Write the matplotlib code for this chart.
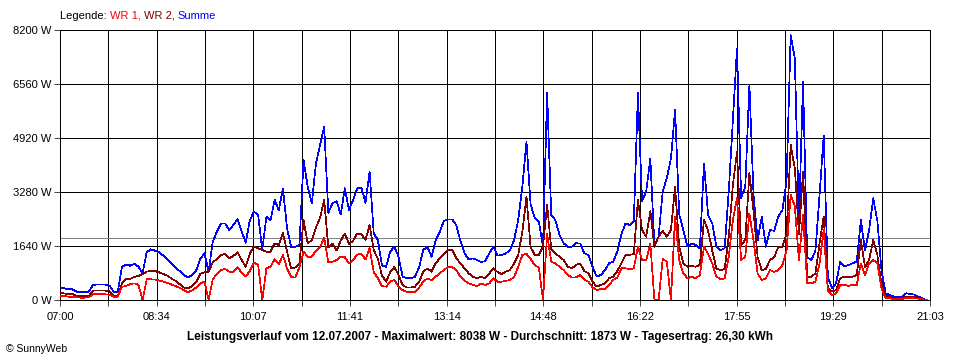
import numpy as np
import matplotlib
matplotlib.use("Agg")
import matplotlib.pyplot as plt

# Leistung in W, ein Wert alle 4 Minuten ab 07:00
summe = [375, 360, 324, 324, 253, 253, 240, 253, 456, 470,
         470, 470, 440, 253, 253, 1000, 1083, 1040, 1100, 1012,
         810, 1450, 1539, 1500, 1450, 1350, 1250, 1100, 980, 880,
         760, 680, 760, 900, 1250, 1420, 860, 1772, 2075, 2328,
         2328, 2126, 2278, 2450, 2075, 1741, 2429, 2682, 2581, 1518,
         2530, 2429, 3037, 2733, 3391, 2176, 1600, 1620, 1670, 4252,
         3442, 2935, 4150, 4700, 5264, 2650, 2935, 3000, 2600, 3391,
         2733, 3037, 3391, 3421, 2950, 3900, 2024, 1822, 1050, 1012,
         1468, 1620, 1316, 709, 658, 658, 709, 1000, 1518, 1620,
         1316, 1822, 2075, 2400, 2449, 2449, 2278, 1790, 1417, 1230,
         1265, 1215, 1154, 1180, 1418, 1620, 1350, 1367, 1417, 1500,
         1822, 2429, 3442, 4808, 2900, 2500, 2379, 1620, 6300, 2581,
         2429, 1974, 1721, 1620, 1620, 1721, 1720, 1418, 1367, 1012,
         709, 759, 900, 1113, 1164, 1470, 2000, 2328, 2278, 2380,
         6280, 3000, 3300, 4300, 1620, 1923, 3300, 3700, 4302, 5770,
         2600, 2126, 1620, 1721, 1670, 1570, 4150, 2580, 2330, 1620,
         1518, 1570, 3300, 5466, 7643, 3100, 3442, 6530, 3200, 1822,
         2530, 1620, 2126, 2100, 2530, 2733, 3600, 8038, 7340, 2400,
         6631, 1300, 1215, 1500, 3200, 5000, 700, 354, 506, 1164,
         1012, 1063, 1113, 1164, 2430, 1500, 2126, 3088, 2400, 900,
         200, 152, 101, 80, 101, 203, 180, 160, 100, 40,
         0]

wr2 = [223, 200, 182, 182, 130, 122, 122, 130, 284, 284,
       284, 284, 260, 122, 122, 500, 628, 640, 700, 729,
       790, 860, 891, 880, 840, 790, 740, 650, 580, 480,
       380, 354, 420, 540, 800, 840, 860, 1143, 1245, 1366,
       1397, 1265, 1336, 1448, 1215, 1012, 1417, 1620, 1569, 1518,
       1468, 1468, 1721, 1670, 2045, 1468, 960, 990, 1113, 2429,
       1721, 1822, 2200, 2500, 3040, 1600, 1720, 1500, 1800, 2024,
       1700, 1800, 2024, 2000, 1822, 2278, 1518, 1250, 740, 557,
       850, 1000, 759, 450, 380, 380, 405, 560, 860, 962,
       860, 1113, 1265, 1400, 1518, 1518, 1265, 1113, 960, 810,
       709, 660, 709, 660, 810, 962, 850, 790, 860, 911,
       1113, 1367, 2075, 3138, 1600, 1370, 1367, 1620, 2900, 1540,
       1417, 1316, 1215, 1012, 962, 1063, 1113, 880, 810, 557,
       405, 456, 500, 658, 709, 880, 1113, 1367, 1367, 1400,
       3030, 2126, 1923, 2700, 1620, 1923, 2100, 1923, 2126, 3442,
       1600, 1113, 1012, 1030, 1012, 1063, 2430, 2100, 1500, 960,
       911, 940, 1923, 3500, 4500, 1670, 1823, 3850, 2700, 1300,
       900, 950, 1215, 1300, 1620, 1620, 2000, 4707, 4000, 2000,
       3897, 709, 709, 810, 1721, 2530, 350, 253, 304, 658,
       709, 709, 709, 759, 1822, 1000, 1215, 1822, 1367, 480,
       120, 101, 51, 51, 70, 101, 101, 101, 70, 20,
       0]

wr1 = [132, 120, 101, 101, 80, 71, 71, 80, 172, 172,
       172, 172, 160, 101, 101, 400, 425, 480, 506, 460,
       0, 628, 628, 620, 590, 560, 520, 470, 420, 370,
       300, 240, 290, 380, 500, 557, 0, 628, 790, 911,
       942, 860, 860, 992, 830, 709, 890, 1143, 1063, 0,
       962, 1012, 1235, 1093, 1366, 962, 700, 680, 1000, 1468,
       1316, 1316, 1500, 1600, 1900, 1150, 1164, 1215, 1316, 1300,
       1113, 1215, 1380, 1400, 1230, 1570, 850, 660, 420, 405,
       560, 607, 405, 300, 253, 253, 253, 380, 557, 658,
       607, 709, 810, 911, 1000, 1000, 911, 709, 590, 506,
       460, 420, 506, 456, 506, 658, 557, 557, 580, 610,
       700, 1012, 1367, 1400, 1250, 1063, 985, 0, 2000, 1164,
       1113, 1012, 911, 760, 680, 690, 759, 620, 557, 385,
       304, 330, 320, 456, 607, 680, 962, 962, 940, 960,
       1620, 1215, 1215, 1700, 0, 0, 1250, 1160, 0, 2530,
       1200, 810, 660, 709, 658, 760, 1620, 1400, 1110, 709,
       640, 650, 1316, 2430, 3100, 1215, 1316, 2630, 1800, 800,
       607, 658, 911, 850, 911, 1063, 1500, 3189, 2850, 1200,
       2581, 506, 506, 557, 1113, 2126, 284, 152, 203, 456,
       456, 430, 456, 456, 1113, 759, 1113, 1215, 1113, 350,
       60, 51, 30, 30, 30, 60, 60, 50, 40, 20,
       0]

zeit_labels = ["07:00", "08:34", "10:07", "11:41", "13:14",
               "14:48", "16:22", "17:55", "19:29", "21:03"]
y_ticks = [0, 1640, 3280, 4920, 6560, 8200]
mittelwert = 1873
dauer = 843  # Minuten von 07:00 bis 21:03

minuten = np.arange(len(summe)) * 4

plt.rcParams['font.family'] = ['Liberation Sans', 'DejaVu Sans']

fig = plt.figure(figsize=(9.6, 3.6), dpi=100)
ax = fig.add_axes([60/960, 60/360, 870/960, 270/360])

lw = 0.5  # ergibt 1 Pixel ohne Antialiasing

# Gitter
x_grid = np.linspace(0, dauer, 19)
for xg in x_grid:
    ax.axvline(xg, color='black', lw=lw, zorder=1, antialiased=False)
for yg in y_ticks:
    ax.axhline(yg, color='black', lw=lw, zorder=1, antialiased=False)

# Durchschnitt
ax.axhline(mittelwert, color='#808080', lw=lw, zorder=1.5, antialiased=False)

ax.plot(minuten, summe, color='#0000ff', lw=lw, zorder=2, antialiased=False)
ax.plot(minuten, wr2, color='#800000', lw=lw, zorder=3, antialiased=False)
ax.plot(minuten, wr1, color='#ff0000', lw=lw, zorder=4, antialiased=False)

ax.set_xlim(0, dauer)
ax.set_ylim(0, 8200)

labels = []
for i in range(19):
    labels.append(zeit_labels[i // 2] if i % 2 == 0 else "")
ax.set_xticks(x_grid)
ax.set_xticklabels(labels)
ax.set_yticks(y_ticks)
ax.set_yticklabels([f"{v} W" for v in y_ticks])
ax.tick_params(direction='out', length=4, width=lw, color='black',
               labelsize=8, pad=2)
ax.tick_params(axis='x', pad=5)
for s in ax.spines.values():
    s.set_color('black')
    s.set_linewidth(lw)
    s.set_antialiased(False)

# Legende oben
r = fig.canvas.get_renderer()
xpix = 60
for txt, col in [("Legende: ", "black"), ("WR 1, ", "#ff0000"),
                 ("WR 2, ", "#800000"), ("Summe", "#0000ff")]:
    t = fig.text(xpix/960, 1 - 16/360, txt, color=col, fontsize=8, va='center')
    bb = t.get_window_extent(renderer=r)
    xpix = bb.x1

fig.text(0.5, 1 - 337/360,
         "Leistungsverlauf vom 12.07.2007 - Maximalwert: 8038 W - "
         "Durchschnitt: 1873 W - Tagesertrag: 26,30 kWh",
         ha='center', va='center', fontsize=8.5, fontweight='bold')
fig.text(6/960, 1 - 349/360, "© SunnyWeb", ha='left', va='center', fontsize=7.5)

fig.savefig("out.png", dpi=100)
